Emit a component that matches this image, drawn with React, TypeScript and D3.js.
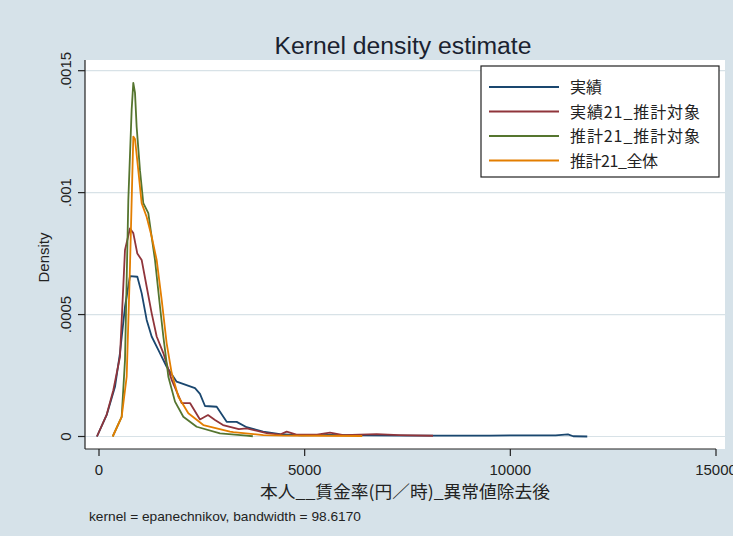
import React from "react";
import * as d3 from "d3";

const W = 733;
const H = 536;

// Series values: [wage (yen/hour), density]
const jisseki: [number, number][] = [
  [-50, 0], [187, 0.0000885], [389, 0.000204], [510, 0.000342], [632, 0.000532],
  [753, 0.000658], [932, 0.000655], [1037, 0.000588], [1159, 0.000478], [1280, 0.00041],
  [1442, 0.000355], [1645, 0.000286], [1888, 0.000225], [2334, 0.000198], [2455, 0.000175],
  [2577, 0.000125], [2861, 0.000122], [3104, 0.00006], [3347, 0.00006], [3590, 0.000038],
  [3990, 0.00002], [4400, 0.00001], [4920, 0.000005], [5600, 0.000007], [6500, 0.000005],
  [7500, 0.000004], [8365, 0.000004], [9500, 0.000004], [11100, 0.000005], [11400, 0.000009],
  [11530, 0.000001], [11870, 0],
];

const jisseki21: [number, number][] = [
  [-50, 0], [187, 0.00009], [348, 0.00019], [510, 0.000327], [632, 0.000765],
  [753, 0.000853], [834, 0.000834], [932, 0.00075], [1037, 0.000724], [1159, 0.000614],
  [1280, 0.000506], [1402, 0.00041], [1564, 0.000342], [1767, 0.000232], [2010, 0.000137],
  [2212, 0.000137], [2455, 0.00007], [2650, 0.000088], [2820, 0.000068], [3015, 0.000047],
  [3400, 0.00003], [3590, 0.000033], [4077, 0.000014], [4400, 0.000008], [4563, 0.00002],
  [4800, 0.000008], [5300, 0.000008], [5616, 0.000016], [5940, 0.000006], [6750, 0.00001],
  [7300, 0.000006], [8120, 0.000003],
];

const suikei21: [number, number][] = [
  [333, 0], [551, 0.00008], [632, 0.000313], [713, 0.00097], [794, 0.00134],
  [834, 0.00145], [875, 0.00141], [915, 0.00127], [997, 0.00109], [1077, 0.000957],
  [1199, 0.000916], [1280, 0.000819], [1361, 0.000724], [1483, 0.000532], [1564, 0.00041],
  [1686, 0.000245], [1848, 0.000143], [2050, 0.000081], [2374, 0.00004], [2941, 0.000013],
  [3590, 0.000004], [3740, 0.000001],
];

const suikei21All: [number, number][] = [
  [333, 0], [551, 0.00008], [673, 0.000245], [753, 0.000696], [834, 0.00123],
  [875, 0.00122], [956, 0.00109], [1037, 0.000957], [1159, 0.0009], [1280, 0.00082],
  [1402, 0.000724], [1524, 0.00056], [1645, 0.000382], [1767, 0.00026], [1929, 0.000163],
  [2172, 0.000095], [2537, 0.000047], [3185, 0.00002], [3266, 0.000018], [3995, 0.000006],
  [4500, 0.000004], [5500, 0.000003], [6400, 0.000002],
];

const seriesNames = ["実績", "実績21_推計対象", "推計21_推計対象", "推計21_全体"];
const seriesColors = ["#1a476f", "#90353b", "#55752f", "#e37e00"];
const seriesData = [jisseki, jisseki21, suikei21, suikei21All];

const xTicks = [0, 5000, 10000, 15000];
const xTickLabels = ["0", "5000", "10000", "15000"];
const yTicks = [0, 0.0005, 0.001, 0.0015];
const yTickLabels = ["0", ".0005", ".001", ".0015"];

const LATIN = "'Liberation Sans', Arial, sans-serif";
const CJK = "'Noto Sans CJK JP', 'Liberation Sans', sans-serif";

export default function App() {
  const plot = { left: 85, right: 725, top: 60, bottom: 449 };
  const x = d3.scaleLinear().domain([0, 15000]).range([99, 716]);
  const y = d3.scaleLinear().domain([0, 0.0015]).range([436.5, 70.7]);
  const line = d3
    .line<[number, number]>()
    .x((d) => x(d[0]))
    .y((d) => y(d[1]));

  const legend = { x: 481, y: 66, w: 238, h: 111 };
  const legendRows = [87, 111.5, 136, 160.5];
  const legendLen = [null, 130, 130, 88];

  return (
    <svg
      width={W}
      height={H}
      style={{ position: "absolute", left: 0, top: 0 }}
      xmlns="http://www.w3.org/2000/svg"
    >
      <rect x={0} y={0} width={W} height={H} fill="#d6e2e9" />
      <rect
        x={plot.left}
        y={plot.top}
        width={plot.right - plot.left}
        height={plot.bottom - plot.top}
        fill="#ffffff"
      />
      {/* gridlines */}
      {yTicks.map((t, i) => (
        <line
          key={"g" + i}
          x1={plot.left}
          x2={plot.right}
          y1={y(t)}
          y2={y(t)}
          stroke="#d8e2e7"
          strokeWidth={1.2}
        />
      ))}
      {/* title */}
      <text
        x={403}
        y={54}
        textAnchor="middle"
        fontFamily={LATIN}
        fontSize={23}
        fill="#1a2230"
        textLength={257}
        lengthAdjust="spacingAndGlyphs"
      >
        Kernel density estimate
      </text>
      {/* curves */}
      {seriesData.map((s, i) => (
        <path
          key={"s" + i}
          d={line(s) || ""}
          fill="none"
          stroke={seriesColors[i]}
          strokeWidth={1.8}
          strokeLinejoin="round"
        />
      ))}
      {/* y axis */}
      <line x1={plot.left} x2={plot.left} y1={plot.top} y2={plot.bottom} stroke="#222" strokeWidth={1.2} />
      {yTicks.map((t, i) => (
        <g key={"yt" + i}>
          <line x1={plot.left - 7} x2={plot.left} y1={y(t)} y2={y(t)} stroke="#222" strokeWidth={1.2} />
          <text
            transform={`translate(71,${y(t)}) rotate(-90)`}
            textAnchor="middle"
            fontFamily={LATIN}
            fontSize={15}
            fill="#222"
          >
            {yTickLabels[i]}
          </text>
        </g>
      ))}
      <text
        transform={`translate(49,${(plot.top + plot.bottom) / 2 + 3}) rotate(-90)`}
        textAnchor="middle"
        fontFamily={LATIN}
        fontSize={15}
        fill="#222"
      >
        Density
      </text>
      {/* x axis */}
      <line x1={plot.left} x2={x(15000)} y1={plot.bottom} y2={plot.bottom} stroke="#222" strokeWidth={1.2} />
      {xTicks.map((t, i) => (
        <g key={"xt" + i}>
          <line x1={x(t)} x2={x(t)} y1={plot.bottom} y2={plot.bottom + 7} stroke="#222" strokeWidth={1.2} />
          <text x={x(t)} y={475} textAnchor="middle" fontFamily={LATIN} fontSize={15} fill="#222">
            {xTickLabels[i]}
          </text>
        </g>
      ))}
      <text
        x={(plot.left + plot.right) / 2}
        y={498}
        textAnchor="middle"
        fontFamily={CJK}
        fontSize={17}
        fill="#222"
        textLength={290}
        lengthAdjust="spacingAndGlyphs"
      >
        本人__賃金率(円／時)_異常値除去後
      </text>
      <text
        x={89}
        y={521}
        fontFamily={LATIN}
        fontSize={13}
        fill="#222"
        textLength={272}
        lengthAdjust="spacingAndGlyphs"
      >
        kernel = epanechnikov, bandwidth = 98.6170
      </text>
      {/* legend */}
      <rect
        x={legend.x}
        y={legend.y}
        width={legend.w}
        height={legend.h}
        fill="#ffffff"
        stroke="#222"
        strokeWidth={1.2}
      />
      {seriesNames.map((n, i) => (
        <g key={"l" + i}>
          <line
            x1={489}
            x2={559}
            y1={legendRows[i]}
            y2={legendRows[i]}
            stroke={seriesColors[i]}
            strokeWidth={1.8}
          />
          <text
            x={570}
            y={legendRows[i] + 6}
            fontFamily={CJK}
            fontSize={16}
            fill="#222"
            {...(legendLen[i] ? { textLength: legendLen[i], lengthAdjust: "spacing" } : {})}
          >
            {n}
          </text>
        </g>
      ))}
    </svg>
  );
}
